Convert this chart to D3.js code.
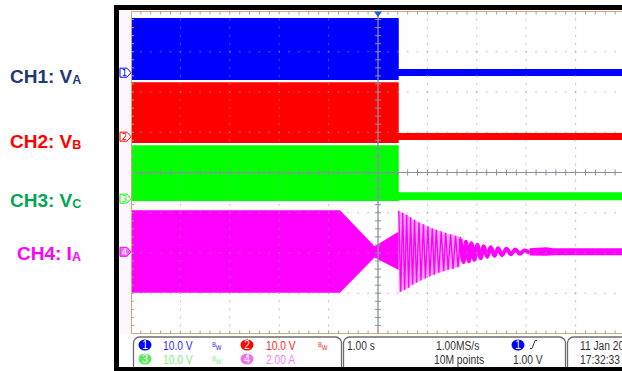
<!DOCTYPE html>
<html>
<head>
<meta charset="utf-8">
<script src="https://cdn.jsdelivr.net/npm/d3@7"></script>
<style>
  html, body { margin: 0; padding: 0; background: #fff; }
  svg { display: block; }
  .lbl { font-family: "Liberation Sans", Arial, sans-serif; font-weight: bold; }
  .st { font-family: "Liberation Sans", Arial, sans-serif; font-size: 12.5px; }
</style>
</head>
<body>
<svg id="chart" width="622" height="371"></svg>
<script>
// scope settings (1.00 s/div, trigger at t = 0)
const channelNames = ["CH1: V", "CH2: V", "CH3: V", "CH4: I"];
const channelSubs = ["A", "B", "C", "A"];
const channelScale = [10, 10, 10, 2];          // units per division
const channelGround = [2.48, 0.89, -0.65, -1.97]; // ground marker, divisions
const scaleLabels = ["10.0 V", "10.0 V", "10.0 V", "2.00 A"];

// CH1..CH3 phase voltages: envelope of the PWM waveform (V)
const ch1Time = [-5, 0.42, 0.42, 5];
const ch1High = [13.6, 13.6, 0.9, 0.9];
const ch1Low = [-1.8, -1.8, -0.8, -0.8];
const ch2Time = [-5, 0.42, 0.42, 5];
const ch2High = [13.5, 13.5, 0.9, 0.9];
const ch2Low = [-1.6, -1.6, -0.8, -0.8];
const ch3Time = [-5, 0.42, 0.42, 5];
const ch3High = [13.3, 13.3, 1.6, 1.6];
const ch3Low = [-0.6, -0.6, -0.4, -0.4];

// CH4 phase current (A): envelope before cut-off
const ch4EnvTime = [-5, -0.77, -0.07, 0.38, 0.42];
const ch4EnvHigh = [2.07, 2.07, 0.28, 0.95, 1.0];
const ch4EnvLow = [-2.03, -2.03, -0.28, -0.85, -0.9];
// dense ringing after cut-off (extrema)
const ch4RingTime = [0.42, 0.46, 0.50, 0.54, 0.58, 0.62, 0.66, 0.70, 0.74, 0.78, 0.83, 0.87, 0.92, 0.96, 1.01,
  1.05, 1.10, 1.14, 1.18, 1.23, 1.28, 1.33, 1.37, 1.42, 1.47, 1.52, 1.57, 1.62, 1.67];
const ch4RingValue = [2.04, -1.99, 1.94, -1.89, 1.84, -1.79, 1.71, -1.64, 1.59, -1.54, 1.47, -1.42, 1.37, -1.32, 1.27,
  -1.22, 1.17, -1.14, 1.09, -1.04, 1.02, -0.97, 0.94, -0.89, 0.87, -0.85, 0.80, -0.77, 0.75];
// slower decaying oscillation
const ch4WaveTime = [1.67, 1.73, 1.78, 1.84, 1.89, 1.95, 2.01, 2.08, 2.14, 2.21, 2.28, 2.36, 2.43, 2.51, 2.60,
  2.69, 2.78, 2.87, 2.97, 3.07];
const ch4WaveValue = [0.65, -0.52, 0.50, -0.47, 0.42, -0.40, 0.35, -0.32, 0.27, -0.25, 0.22, -0.20, 0.17, -0.17, 0.15,
  -0.12, 0.12, -0.10, 0.07, -0.05];
// settled band
const ch4TailTime = [3.07, 3.40, 3.55, 5];
const ch4TailHigh = [0.18, 0.22, 0.17, 0.17];
const ch4TailLow = [-0.18, -0.2, -0.17, -0.17];

const colors = ["#0000ff", "#ff0000", "#00ff00", "#ff00ff"];
const labelColors = ["#1f3a70", "#ff0000", "#00a651", "#ff00ff"];
const statusColors = ["#2a2aff", "#ff2a2a", "#7ef07e", "#f07ef0"];

const svg = d3.select("#chart");
const x = d3.scaleLinear().domain([-5, 5]).range([131, 625]);
const yDiv = d3.scaleLinear().domain([-4, 4]).range([333.5, 11.5]);
const yCh = (i, v) => yDiv(channelGround[i] + v / channelScale[i]);

// frame
svg.append("rect").attr("x", 119).attr("y", 10).attr("width", 520).attr("height", 358).attr("fill", "#fdf6fb");
svg.append("rect").attr("x", 131).attr("y", 11.5).attr("width", 500).attr("height", 322).attr("fill", "#fff");
svg.append("rect").attr("x", 119).attr("y", 334).attr("width", 520).attr("height", 34).attr("fill", "#fff");

// left labels
const labelPos = [[10, 83], [10, 148], [10, 207], [17, 260]];
channelNames.forEach((n, i) => {
  const t = svg.append("text").attr("class", "lbl").attr("x", labelPos[i][0]).attr("y", labelPos[i][1])
    .attr("fill", labelColors[i]).attr("font-size", 19).text(n);
  t.append("tspan").attr("font-size", 12.5).attr("dy", 1).text(channelSubs[i]);
});

const plot = svg.append("g");
svg.append("clipPath").attr("id", "clip").append("rect")
  .attr("x", 131).attr("y", 11.5).attr("width", 500).attr("height", 322);
plot.attr("clip-path", "url(#clip)");

// traces
function band(i, ts, hi, lo, color) {
  const a = d3.area().x(d => x(d[0])).y0(d => yCh(i, d[2])).y1(d => yCh(i, d[1]));
  plot.append("path").datum(ts.map((t, k) => [t, hi[k], lo[k]]))
    .attr("d", a).attr("fill", color);
}
band(0, ch1Time, ch1High, ch1Low, colors[0]);
band(1, ch2Time, ch2High, ch2Low, colors[1]);
band(2, ch3Time, ch3High, ch3Low, colors[2]);
band(3, ch4EnvTime, ch4EnvHigh, ch4EnvLow, colors[3]);

// CH4 ringing
const ringPts = ch4RingTime.map((t, k) => [t, ch4RingValue[k]]);
plot.append("path").datum(ringPts)
  .attr("d", d3.area().x(d => x(d[0])).y0(d => yCh(3, -Math.abs(d[1]))).y1(d => yCh(3, Math.abs(d[1]))).curve(d3.curveMonotoneX))
  .attr("fill", "#f7a6f7");
plot.append("path").datum(ringPts)
  .attr("d", d3.line().x(d => x(d[0])).y(d => yCh(3, d[1])))
  .attr("fill", "none").attr("stroke", colors[3]).attr("stroke-width", 1.4);
plot.append("path").datum(ch4WaveTime.map((t, k) => [t, ch4WaveValue[k]]))
  .attr("d", d3.line().x(d => x(d[0])).y(d => yCh(3, d[1])).curve(d3.curveMonotoneX))
  .attr("fill", "none").attr("stroke", colors[3]).attr("stroke-width", 4).attr("stroke-linejoin", "round");
band(3, ch4TailTime, ch4TailHigh, ch4TailLow, colors[3]);

// grid (dotted), drawn over traces
const grid = svg.append("g").attr("clip-path", "url(#clip)");
const majX = d3.range(-4, 5).filter(d => d !== 0);
const majY = d3.range(-3, 4).filter(d => d !== 0);
const minX = d3.range(-50, 51).map(d => d / 10).filter(d => Math.round(d * 10) % 2 === 0);
const minY = d3.range(-40, 41).map(d => d / 10).filter(d => Math.round(d * 10) % 2 === 0);
majX.forEach(gx => minY.forEach(gy => {
  grid.append("rect").attr("x", x(gx) - 0.5).attr("y", yDiv(gy) - 1).attr("width", 1).attr("height", 2)
    .attr("fill", "#9a9a9a").attr("opacity", 0.6);
}));
majY.forEach(gy => minX.forEach(gx => {
  grid.append("rect").attr("x", x(gx) - 1).attr("y", yDiv(gy) - 0.5).attr("width", 2).attr("height", 1)
    .attr("fill", "#9a9a9a").attr("opacity", 0.6);
}));
// center cross with ticks
const axisCol = "#8a90a0";
grid.append("line").attr("x1", 131).attr("x2", 625).attr("y1", yDiv(0)).attr("y2", yDiv(0))
  .attr("stroke", axisCol).attr("stroke-width", 1);
grid.append("line").attr("x1", x(0)).attr("x2", x(0)).attr("y1", 11.5).attr("y2", 333.5)
  .attr("stroke", axisCol).attr("stroke-width", 1.3);
minX.forEach(gx => {
  grid.append("line").attr("x1", x(gx)).attr("x2", x(gx)).attr("y1", yDiv(0) - 3).attr("y2", yDiv(0) + 3)
    .attr("stroke", axisCol);
  grid.append("line").attr("x1", x(gx)).attr("x2", x(gx)).attr("y1", 11.5).attr("y2", 14.5)
    .attr("stroke", "#a0a0a0");
  grid.append("line").attr("x1", x(gx)).attr("x2", x(gx)).attr("y1", 330.5).attr("y2", 333.5)
    .attr("stroke", "#a0a0a0");
});
minY.forEach(gy => {
  grid.append("line").attr("x1", x(0) - 3).attr("x2", x(0) + 3).attr("y1", yDiv(gy)).attr("y2", yDiv(gy))
    .attr("stroke", axisCol);
  grid.append("line").attr("x1", 131).attr("x2", 134).attr("y1", yDiv(gy)).attr("y2", yDiv(gy))
    .attr("stroke", "#a0a0a0");
});
// graticule border
svg.append("path").attr("d", `M625,11.5H131.5V333.5H625`).attr("fill", "none")
  .attr("stroke", "#d2a878").attr("stroke-width", 1);

// trigger marker
svg.append("path").attr("d", `M${x(0) - 4},11.5H${x(0) + 4}L${x(0)},17Z`).attr("fill", "#1a5ce6");

// channel ground markers
channelGround.forEach((g, i) => {
  const yy = yDiv(g);
  svg.append("path").attr("d", `M120,${yy - 4.5}H127L131,${yy}L127,${yy + 4.5}H120Z`)
    .attr("fill", i === 3 ? "#f06ef0" : "#fff").attr("stroke", colors[i]).attr("stroke-width", 1);
  svg.append("text").attr("x", 124.5).attr("y", yy + 3.5).attr("text-anchor", "middle")
    .attr("font-family", "DejaVu Sans Condensed, sans-serif").attr("font-size", 9.5)
    .attr("fill", i === 3 ? "#fff" : colors[i]).text(i + 1);
});

// status bar boxes
[[133, 208], [343, 222], [567, 80]].forEach(b => {
  svg.append("rect").attr("x", b[0] + 0.5).attr("y", 337).attr("width", b[1]).attr("height", 36).attr("rx", 6)
    .attr("fill", "#fff").attr("stroke", "#6e6e6e").attr("stroke-width", 1.3);
});
svg.append("clipPath").attr("id", "clipStatus").append("rect")
  .attr("x", 119).attr("y", 334).attr("width", 503).attr("height", 37);
const status = svg.append("g").attr("clip-path", "url(#clipStatus)");
// narrow text: scaled horizontally like the scope's condensed font
const stText = (tx, ty, s, col, anchor) => status.append("text").attr("class", "st")
  .attr("transform", `translate(${tx},${ty}) scale(0.82,1)`)
  .attr("text-anchor", anchor || "start").attr("fill", col).text(s);
const row = [349.5, 363.5];
const badge = (cx, cy, col, n) => {
  status.append("ellipse").attr("cx", cx).attr("cy", cy).attr("rx", 6.5).attr("ry", 5.5).attr("fill", col);
  stText(cx, cy + 4.3, n, "#fff", "middle");
};
const bw = (bx, by, col) => {
  const t = status.append("text").attr("x", bx).attr("y", by - 3).attr("font-family", "DejaVu Sans Condensed, sans-serif")
    .attr("font-size", 6.5).attr("fill", col);
  t.append("tspan").text("B");
  t.append("tspan").attr("dy", 3).text("W");
};
const chPos = [[145, 163, 212, 0], [247, 266, 318, 0], [145, 163, 212, 1], [247, 266, null, 1]];
chPos.forEach((p, i) => {
  const cy = row[p[3]] - 4.5;
  badge(p[0], cy, colors[i] === "#00ff00" ? "#5ee85e" : (i === 3 ? "#f06ef0" : colors[i]), i + 1);
  stText(p[1], row[p[3]], scaleLabels[i], statusColors[i]);
  if (p[2]) bw(p[2], row[p[3]], statusColors[i]);
});

const timebase = "1.00 s", sampleRate = "1.00MS/s", memDepth = "10M points", trigLevel = "1.00 V";
const dateText = "11 Jan 2016", timeText = "17:32:33";
const dark = "#333";
stText(347, row[0], timebase, dark);
stText(436, row[0], sampleRate, dark);
stText(434, row[1], memDepth, dark);
badge(518, row[0] - 4.5, "#0000ff", 1);
status.append("path").attr("d", `M530,${row[0] - 1}H532L535,${row[0] - 9}H537`).attr("fill", "none")
  .attr("stroke", dark).attr("stroke-width", 1);
stText(513, row[1], trigLevel, dark);
stText(580, row[0], dateText, dark);
stText(580, row[1], timeText, dark);

// black bezel
svg.append("path").attr("d", "M640,7.5H116.5V369.5H640").attr("fill", "none").attr("stroke", "#000").attr("stroke-width", 5);
</script>
</body>
</html>
